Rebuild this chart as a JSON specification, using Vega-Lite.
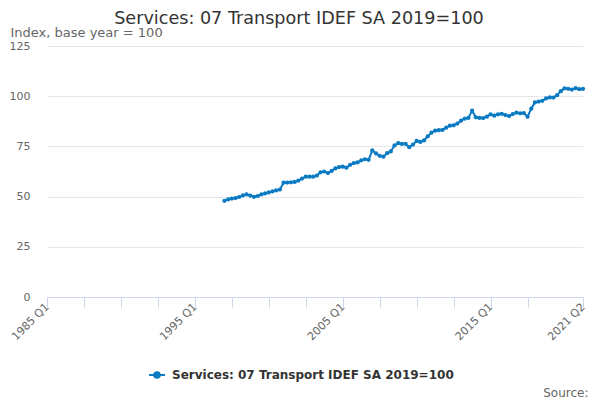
{
  "$schema": "https://vega.github.io/schema/vega-lite/v6.json",
  "description": "Services: 07 Transport IDEF SA 2019=100, quarterly index",
  "autosize": {"type": "none"},
  "width": 536,
  "height": 251,
  "padding": {"left": 47, "top": 46, "right": 17, "bottom": 103},
  "background": "white",
  "config": {
    "font": "DejaVu Sans",
    "view": {"stroke": null}
  },
  "title": {
    "text": "Services: 07 Transport IDEF SA 2019=100",
    "anchor": "middle",
    "dx": -16,
    "offset": -2,
    "fontSize": 17.6,
    "fontWeight": "normal",
    "color": "#333333"
  },
  "data": {
    "values": [
      {"t": 1997.00, "value": 47.9}, {"t": 1997.25, "value": 48.6}, {"t": 1997.50, "value": 49.0}, {"t": 1997.75, "value": 49.3},
      {"t": 1998.00, "value": 49.8}, {"t": 1998.25, "value": 50.6}, {"t": 1998.50, "value": 51.1}, {"t": 1998.75, "value": 50.5},
      {"t": 1999.00, "value": 49.9}, {"t": 1999.25, "value": 50.3}, {"t": 1999.50, "value": 51.1}, {"t": 1999.75, "value": 51.6},
      {"t": 2000.00, "value": 52.1}, {"t": 2000.25, "value": 52.6}, {"t": 2000.50, "value": 53.1}, {"t": 2000.75, "value": 53.5},
      {"t": 2001.00, "value": 56.9}, {"t": 2001.25, "value": 57.0}, {"t": 2001.50, "value": 57.1}, {"t": 2001.75, "value": 57.3},
      {"t": 2002.00, "value": 58.0}, {"t": 2002.25, "value": 59.0}, {"t": 2002.50, "value": 59.9}, {"t": 2002.75, "value": 59.9},
      {"t": 2003.00, "value": 59.9}, {"t": 2003.25, "value": 60.5}, {"t": 2003.50, "value": 62.1}, {"t": 2003.75, "value": 62.5},
      {"t": 2004.00, "value": 61.7}, {"t": 2004.25, "value": 62.8}, {"t": 2004.50, "value": 64.0}, {"t": 2004.75, "value": 64.7},
      {"t": 2005.00, "value": 64.9}, {"t": 2005.25, "value": 64.4}, {"t": 2005.50, "value": 65.8}, {"t": 2005.75, "value": 66.7},
      {"t": 2006.00, "value": 67.0}, {"t": 2006.25, "value": 68.0}, {"t": 2006.50, "value": 68.6}, {"t": 2006.75, "value": 68.3},
      {"t": 2007.00, "value": 73.0}, {"t": 2007.25, "value": 71.5}, {"t": 2007.50, "value": 70.3}, {"t": 2007.75, "value": 69.9},
      {"t": 2008.00, "value": 71.6}, {"t": 2008.25, "value": 72.5}, {"t": 2008.50, "value": 75.5}, {"t": 2008.75, "value": 76.6},
      {"t": 2009.00, "value": 76.2}, {"t": 2009.25, "value": 76.3}, {"t": 2009.50, "value": 74.6}, {"t": 2009.75, "value": 75.9},
      {"t": 2010.00, "value": 77.7}, {"t": 2010.25, "value": 77.2}, {"t": 2010.50, "value": 78.0}, {"t": 2010.75, "value": 80.0},
      {"t": 2011.00, "value": 81.8}, {"t": 2011.25, "value": 82.8}, {"t": 2011.50, "value": 83.1}, {"t": 2011.75, "value": 83.2},
      {"t": 2012.00, "value": 84.3}, {"t": 2012.25, "value": 85.3}, {"t": 2012.50, "value": 85.5}, {"t": 2012.75, "value": 86.4},
      {"t": 2013.00, "value": 87.8}, {"t": 2013.25, "value": 88.8}, {"t": 2013.50, "value": 89.2}, {"t": 2013.75, "value": 92.8},
      {"t": 2014.00, "value": 89.5}, {"t": 2014.25, "value": 89.2}, {"t": 2014.50, "value": 89.1}, {"t": 2014.75, "value": 89.8},
      {"t": 2015.00, "value": 91.0}, {"t": 2015.25, "value": 90.3}, {"t": 2015.50, "value": 91.0}, {"t": 2015.75, "value": 91.2},
      {"t": 2016.00, "value": 90.6}, {"t": 2016.25, "value": 90.1}, {"t": 2016.50, "value": 91.1}, {"t": 2016.75, "value": 91.8},
      {"t": 2017.00, "value": 91.5}, {"t": 2017.25, "value": 91.6}, {"t": 2017.50, "value": 89.8}, {"t": 2017.75, "value": 93.8},
      {"t": 2018.00, "value": 96.9}, {"t": 2018.25, "value": 97.3}, {"t": 2018.50, "value": 97.7}, {"t": 2018.75, "value": 98.9},
      {"t": 2019.00, "value": 99.4}, {"t": 2019.25, "value": 99.3}, {"t": 2019.50, "value": 100.5}, {"t": 2019.75, "value": 102.5},
      {"t": 2020.00, "value": 103.9}, {"t": 2020.25, "value": 103.7}, {"t": 2020.50, "value": 103.3}, {"t": 2020.75, "value": 104.0},
      {"t": 2021.00, "value": 103.5}, {"t": 2021.25, "value": 103.6}
    ]
  },
  "mark": {
    "type": "line",
    "strokeWidth": 2,
    "point": {"filled": true, "size": 18}
  },
  "encoding": {
    "x": {
      "field": "t",
      "type": "quantitative",
      "scale": {"domain": [1985, 2021.25], "nice": false, "zero": false},
      "axis": {
        "title": "Source:",
        "titleX": 541,
        "titleY": 99,
        "titleAlign": "right",
        "titleBaseline": "alphabetic",
        "titleFontSize": 12,
        "titleFontWeight": "normal",
        "titleColor": "#666666",
        "values": [1985, 1987.5, 1990, 1992.5, 1995, 1997.5, 2000, 2002.5, 2005, 2007.5, 2010, 2012.5, 2015, 2017.5, 2021.25],
        "labelExpr": "indexof([1985, 1995, 2005, 2015, 2021.25], datum.value) >= 0 ? floor(datum.value) + ' Q' + (round((datum.value - floor(datum.value)) * 4) + 1) : ''",
        "labelAngle": -45,
        "labelAlign": "right",
        "labelBaseline": "middle",
        "labelPadding": -2,
        "labelFontSize": 11,
        "labelColor": "#666666",
        "labelOverlap": false,
        "labelBound": false,
        "labelFlush": false,
        "grid": false,
        "domainColor": "#ccd6eb",
        "tickColor": "#ccd6eb",
        "tickSize": 10
      }
    },
    "y": {
      "field": "value",
      "type": "quantitative",
      "scale": {"domain": [0, 125], "nice": false},
      "axis": {
        "title": "Index, base year = 100",
        "titleAngle": 0,
        "titleX": -37,
        "titleY": -10,
        "titleAlign": "left",
        "titleBaseline": "alphabetic",
        "titleFontSize": 13,
        "titleFontWeight": "normal",
        "titleColor": "#666666",
        "values": [0, 25, 50, 75, 100, 125],
        "labelFontSize": 11,
        "labelColor": "#666666",
        "labelPadding": 17,
        "ticks": false,
        "domain": false,
        "grid": true,
        "gridColor": "#e6e6e6"
      }
    },
    "color": {
      "datum": "Services: 07 Transport IDEF SA 2019=100",
      "type": "nominal",
      "scale": {"range": ["#0a7bc2"]},
      "legend": {
        "title": null,
        "orient": "none",
        "legendX": 101,
        "legendY": 320,
        "symbolType": "M-1,0L1,0M-0.35,0A0.35,0.35 0 1,0 0.35,0A0.35,0.35 0 1,0 -0.35,0Z",
        "symbolSize": 256,
        "symbolStrokeWidth": 2,
        "symbolFillColor": "#0a7bc2",
        "symbolStrokeColor": "#0a7bc2",
        "labelFontSize": 12,
        "labelFontWeight": "bold",
        "labelColor": "#333333",
        "labelOffset": 6,
        "labelLimit": 400
      }
    }
  }
}
